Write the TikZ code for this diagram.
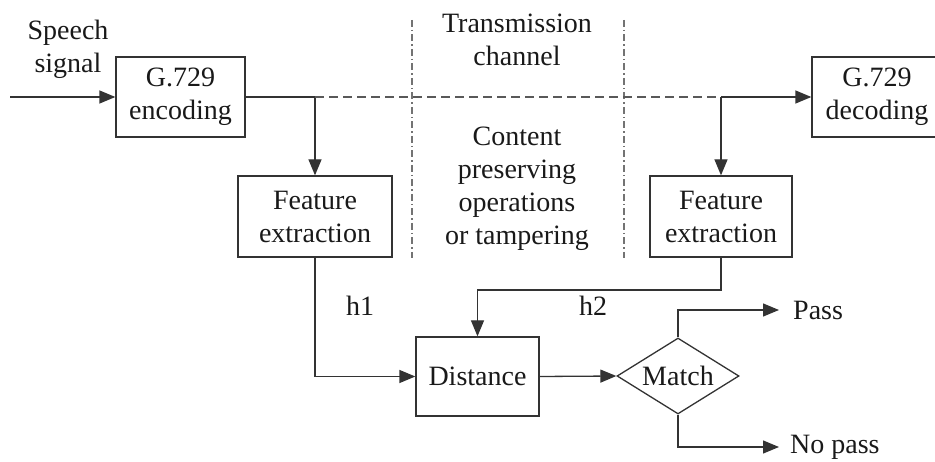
\documentclass[tikz,border=0pt]{standalone}
\usepackage{fontspec}
\setmainfont{Liberation Serif}
\usetikzlibrary{arrows.meta,shapes.geometric}
\begin{document}
\begin{tikzpicture}[x=1pt,y=-1pt,
  every node/.style={font=\fontsize{28}{33}\selectfont, text=black!90},
  box/.style={draw=black!80, line width=1.3pt, align=center, inner sep=0pt},
  lbl/.style={align=center, inner sep=0pt},
  ln/.style={draw=black!80, line width=1.3pt},
  arr/.style={ln, -{Triangle[length=16pt,width=13pt]}},
  dashln/.style={draw=black!65, line width=1.2pt, dash pattern=on 9pt off 5pt},
  dashdot/.style={draw=black!55, line width=1.1pt, dash pattern=on 7pt off 3pt on 1.5pt off 3pt}
]
\clip (0,0) rectangle (935,462);
\useasboundingbox (0,0) rectangle (935,462);

% boxes
\node[box, minimum width=129pt, minimum height=80pt] (enc) at (180.5,97) {G.729\\encoding};
\node[box, minimum width=130pt, minimum height=80pt] (dec) at (877,97) {G.729\\decoding};
\node[box, minimum width=154pt, minimum height=81pt] (fe1) at (315,216.5) {Feature\\extraction};
\node[box, minimum width=142pt, minimum height=81pt] (fe2) at (721,216.5) {Feature\\extraction};
\node[box, minimum width=123pt, minimum height=79pt] (dist) at (477.5,376.5) {Distance};
\node[box, diamond, aspect=1.6, minimum width=122pt, minimum height=76pt] (match) at (678,376) {Match};

% labels
\node[lbl] (speech) at (68,49) {Speech\\signal};
\node[lbl] (trans) at (517,40) {Transmission\\channel};
\node[lbl] (content) at (517,189) {Content\\preserving\\operations\\or tampering};
\node[lbl] (h1) at (360,306) {h1};
\node[lbl] (h2) at (593,306) {h2};
\node[lbl, anchor=west, inner xsep=14pt] (pass) at (779,310) {Pass};
\node[lbl, anchor=west, inner xsep=11pt] (nopass) at (779,447) {No pass};

% coordinates
\coordinate (in) at (10,97);
\coordinate (j1) at (315,97);
\coordinate (j2) at (721,97);
\coordinate (k2) at (721,290);
\coordinate (d1t) at (412,20);
\coordinate (d1b) at (412,258);
\coordinate (d2t) at (624,20);
\coordinate (d2b) at (624,258);

% dash-dot separators
\draw[dashdot] (d1t) -- (d1b);
\draw[dashdot] (d2t) -- (d2b);

% connectors
\draw[arr] (in) -- (enc.west);
\draw[arr] (enc.east) -- (j1) -- (fe1.north);
\draw[dashln] (j1) -- (j2);
\draw[arr] (j2) -- (dec.west);
\draw[arr] (j2) -- (fe2.north);
\draw[arr] (fe1.south) |- (dist.west);
\draw[arr] (fe2.south) -- (k2) -| (dist.north);
\draw[arr] (dist.east) -- (match.west);
\draw[arr] (match.north) |- (pass.west);
\draw[arr] (match.south) |- (nopass.west);
\end{tikzpicture}
\end{document}
